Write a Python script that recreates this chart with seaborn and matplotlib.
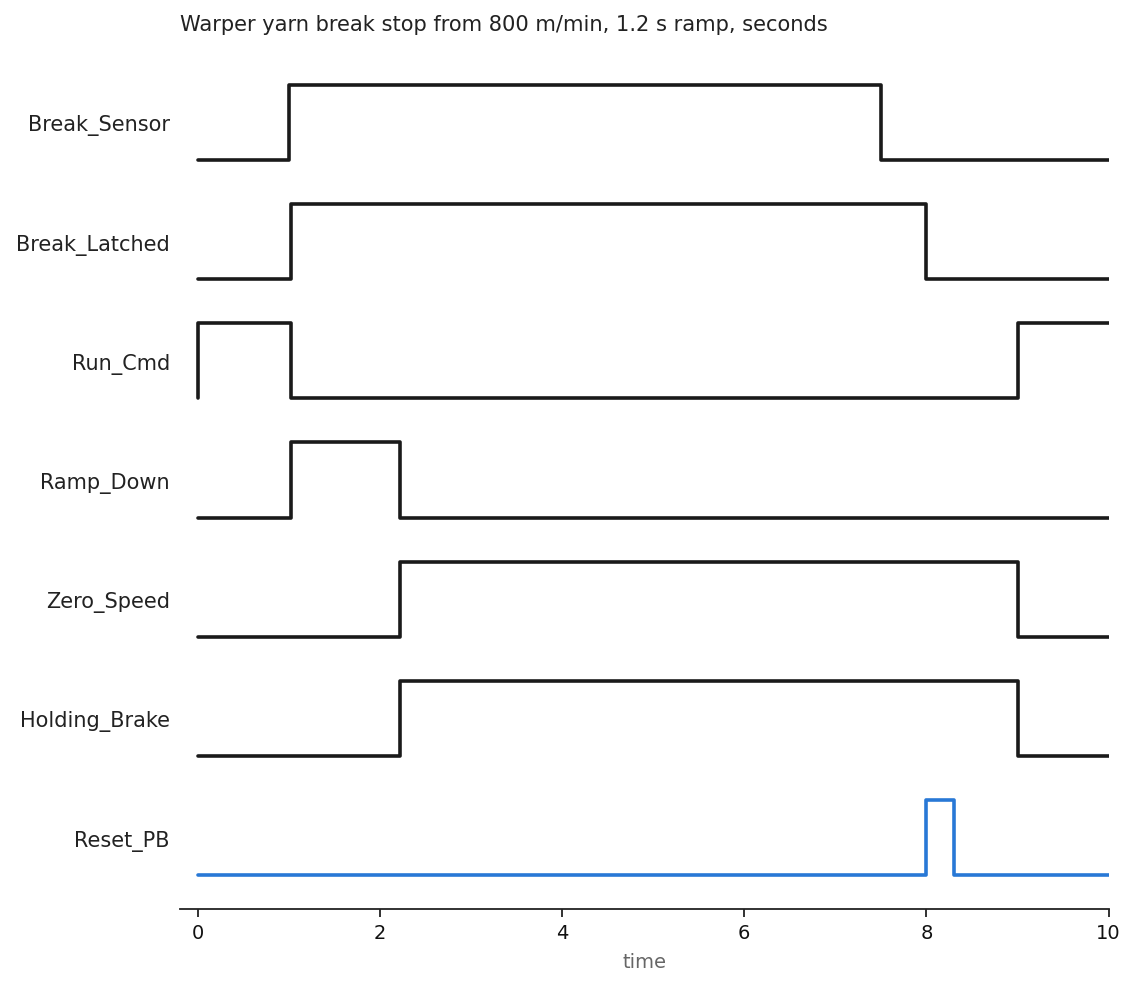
import numpy as np
import pandas as pd
import seaborn as sns
import matplotlib.pyplot as plt

signals = ["Break_Sensor", "Break_Latched", "Run_Cmd", "Ramp_Down",
           "Zero_Speed", "Holding_Brake", "Reset_PB"]
# (time, level) transition points per signal, stepped "post"
t_break_sensor = [0, 1.0, 7.5, 10]
v_break_sensor = [0, 1, 0, 0]
t_break_latched = [0, 1.02, 8.0, 10]
v_break_latched = [0, 1, 0, 0]
t_run_cmd = [0, 0, 1.02, 9.0, 10]
v_run_cmd = [0, 1, 0, 1, 1]
t_ramp_down = [0, 1.02, 2.22, 10]
v_ramp_down = [0, 1, 0, 0]
t_zero_speed = [0, 2.22, 9.0, 10]
v_zero_speed = [0, 1, 0, 0]
t_holding_brake = [0, 2.22, 9.0, 10]
v_holding_brake = [0, 1, 0, 0]
t_reset_pb = [0, 8.0, 8.3, 10]
v_reset_pb = [0, 1, 0, 0]

times = [t_break_sensor, t_break_latched, t_run_cmd, t_ramp_down,
         t_zero_speed, t_holding_brake, t_reset_pb]
levels = [v_break_sensor, v_break_latched, v_run_cmd, v_ramp_down,
          v_zero_speed, v_holding_brake, v_reset_pb]
colors = ["#1a1a1a"] * 6 + ["#2878d6"]

amp = 0.63

sns.set_theme(style="white")
plt.rcParams['font.family'] = ['DejaVu Sans']

fig = plt.figure(figsize=(11.37, 9.87), dpi=100)
ax = fig.add_axes([0.158, 0.078, 0.817, 0.872])

centers = []
for i, name in enumerate(signals):
    base = -i
    df = pd.DataFrame({"t": times[i], "v": np.array(levels[i]) * amp + base})
    sns.lineplot(data=df, x="t", y="v", ax=ax, drawstyle="steps-post",
                 color=colors[i], linewidth=2.6, sort=False, estimator=None)
    centers.append(base + amp / 2)

ax.set_yticks(centers)
ax.set_yticklabels(signals, fontsize=15, color="#222222")
ax.tick_params(axis="y", length=0, pad=7)
ax.tick_params(axis="x", length=6, width=1.3, color="#222222", labelsize=14,
               labelcolor="#111111", bottom=True, pad=4)
ax.set_xlim(-0.2, 10)
ax.set_ylim(-6.285, 0.937)
ax.set_xticks([0, 2, 4, 6, 8, 10])
ax.set_xlabel("time", fontsize=14, color="#666666", labelpad=7)
ax.set_ylabel("")
ax.set_title("Warper yarn break stop from 800 m/min, 1.2 s ramp, seconds",
             loc="left", fontsize=15.1, color="#222222", pad=13)
for s in ["top", "right", "left"]:
    ax.spines[s].set_visible(False)
ax.spines["bottom"].set_color("#222222")
ax.spines["bottom"].set_linewidth(1.3)

fig.savefig("out.png", dpi=100)
